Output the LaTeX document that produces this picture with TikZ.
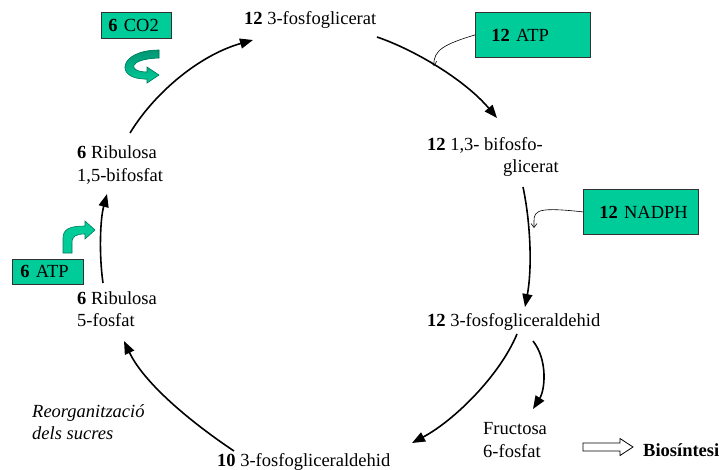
\documentclass[tikz,border=0pt]{standalone}
\usepackage{fontspec}
\setmainfont{Liberation Serif}
\usetikzlibrary{arrows.meta}
\definecolor{leafgreen}{RGB}{0,204,153}
\definecolor{leafdark}{RGB}{0,120,90}
\definecolor{leafshade}{RGB}{0,150,115}
\definecolor{boxline}{RGB}{50,50,50}
\tikzset{
  txt/.style={font=\fontsize{18.5pt}{23pt}\selectfont},
  lbl/.style={txt, inner sep=0pt, anchor=base west},
  cofactor/.style={txt, draw=boxline, line width=0.8pt, fill=leafgreen,
    align=left, anchor=north west, inner ysep=0pt},
  flow/.style={line width=1.6pt, -{Triangle[length=13pt,width=10pt]}},
  feed/.style={line width=0.6pt, -{Straight Barb[length=4pt,width=6pt]}},
  ribbon/.style={draw=leafdark, line width=0.6pt, fill=leafgreen},
  hollow/.style={draw=black, line width=0.8pt, fill=white}
}
\begin{document}
\begin{tikzpicture}[x=1pt, y=-1pt]
\fill[white] (0,0) rectangle (725,469);
\useasboundingbox (0,0) rectangle (725,469);

% metabolites of the cycle
\node[lbl] (pg) at (244,24) {\textbf{12} 3-fosfoglicerat};
\node[lbl] (bpg1) at (427,150) {\textbf{12} 1,3- bifosfo-};
\node[lbl] (bpg2) at (503,172) {glicerat};
\node[lbl] (gap12) at (427,326) {\textbf{12} 3-fosfogliceraldehid};
\node[lbl] (gap10) at (217,466) {\textbf{10} 3-fosfogliceraldehid};
\node[lbl] (rubp1) at (77,158) {\textbf{6} Ribulosa};
\node[lbl] (rubp2) at (77,181) {1,5-bifosfat};
\node[lbl] (ru5p1) at (77,304) {\textbf{6} Ribulosa};
\node[lbl] (ru5p2) at (77,326) {5-fosfat};
\node[lbl] (fru1) at (483,434) {Fructosa};
\node[lbl] (fru2) at (483,457) {6-fosfat};
\node[lbl] (bio) at (643,456) {\textbf{Biosíntesi}};
\node[lbl, font=\fontsize{18.5pt}{23pt}\selectfont\itshape] (reo1) at (32,417) {Reorganització};
\node[lbl, font=\fontsize{18.5pt}{23pt}\selectfont\itshape] (reo2) at (32,439) {dels sucres};

% cofactor boxes
\node[cofactor, text width=56pt, inner xsep=7pt, minimum height=26pt] (co2) at (101,12) {\mbox{\textbf{6} CO2}};
\node[cofactor, text width=83pt, inner xsep=16pt, minimum height=45pt] (atp12) at (475,12) {\mbox{\textbf{12} ATP}};
\node[cofactor, text width=83pt, inner xsep=16pt, minimum height=45pt] (nadph) at (583,189) {\mbox{\textbf{12} NADPH}};
\node[cofactor, text width=55pt, inner xsep=8pt, minimum height=25pt] (atp6) at (12,259) {\mbox{\textbf{6} ATP}};

% arrow end points
\coordinate (rubp-out) at (130,133);
\coordinate (pg-in) at (253,40);
\coordinate (pg-out) at (377,37);
\coordinate (bpg-in) at (497,118);
\coordinate (bpg-out) at (523,187);
\coordinate (gap12-in) at (525,307);
\coordinate (gap12-out) at (517,334);
\coordinate (gap10-in) at (412,443);
\coordinate (fru-out) at (533,341);
\coordinate (fru-in) at (533,409);
\coordinate (gap10-out) at (234,451);
\coordinate (ru5p-in) at (124,341);
\coordinate (ru5p-out) at (103,283);
\coordinate (rubp-in) at (107,194);
\coordinate (atp-hit) at (434,66);
\coordinate (nadph-hit) at (534,228);

% main cycle
\draw[flow] (rubp-out) .. controls (155,92) and (200,55) .. (pg-in);
\draw[flow] (pg-out) .. controls (415,50) and (465,80) .. (bpg-in);
\draw[flow] (bpg-out) .. controls (531,225) and (532,270) .. (gap12-in);
\draw[flow] (gap12-out) .. controls (500,375) and (455,420) .. (gap10-in);
\draw[flow] (fru-out) .. controls (548,360) and (545,390) .. (fru-in);
\draw[flow] (gap10-out) .. controls (195,425) and (145,385) .. (ru5p-in);
\draw[flow] (ru5p-out) .. controls (99,255) and (100,220) .. (rubp-in);

% cofactor inputs
\draw[feed] (atp12.west) .. controls (445,44) and (433,50) .. (atp-hit);
\draw[feed] (nadph.west) .. controls (530,206) and (534,212) .. (nadph-hit);

% CO2 entry: curled ribbon arrow
\path[ribbon, top color=leafshade, bottom color=leafgreen]
  (159,50) .. controls (118,50) and (114,80) .. (147,79) -- (147,83) -- (159,75)
  -- (147,67) -- (147,72) .. controls (128,72) and (127,59) .. (159,58) -- cycle;

% ATP entry: bent ribbon arrow
\path[ribbon]
  (63,253) -- (63,238) .. controls (63,229) and (70,226) .. (85,226) -- (85,221)
  -- (95,230) -- (85,239) -- (85,234) .. controls (76,234) and (72,236) .. (72,243)
  -- (72,253) -- cycle;

% towards biosynthesis
\path[hollow] (583,443) -- (620,443) -- (620,438.5) -- (633,447) -- (620,455.5)
  -- (620,451) -- (583,451) -- cycle;
\end{tikzpicture}
\end{document}
